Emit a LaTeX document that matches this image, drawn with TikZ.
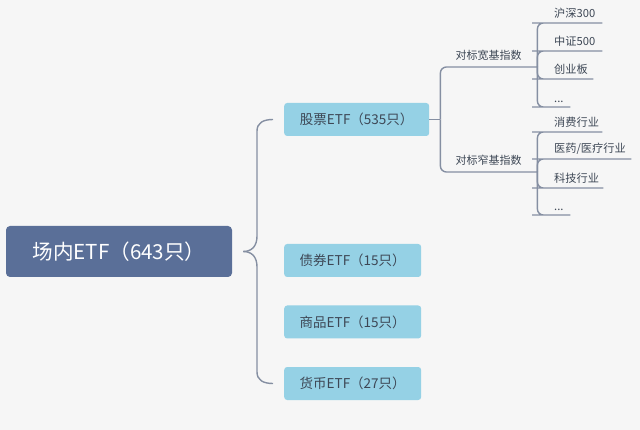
\documentclass[tikz,border=0pt]{standalone}
\usepackage{fontspec}
\setmainfont{Noto Sans CJK SC}
\usepackage{xcolor}
\usetikzlibrary{positioning,calc}
\definecolor{cBack}{HTML}{F6F6F6}
\definecolor{cRoot}{HTML}{5A6F98}
\definecolor{cMain}{HTML}{95D1E5}
\definecolor{cLine}{HTML}{858FA2}
\definecolor{cText}{HTML}{3D4755}
\tikzset{
  root/.style={rounded corners=4pt,fill=cRoot,text=white,minimum width=226pt,minimum height=51pt,inner sep=0pt,font=\fontsize{20.6}{24}\selectfont},
  main/.style={rounded corners=3pt,fill=cMain,text=cText,anchor=west,minimum height=33pt,inner sep=0pt,font=\fontsize{13.5}{15}\selectfont},
  sub/.style={anchor=south west,minimum width=97pt,inner xsep=0pt,inner ysep=6pt,text=cText,font=\fontsize{11}{13}\selectfont},
  leaf/.style={anchor=south west,text width=#1,align=left,inner xsep=0pt,inner ysep=4pt,text=cText,font=\fontsize{11.2}{13}\selectfont},
  link/.style={draw=cLine,line width=1.4pt},
  fork/.style={link,rounded corners=6pt}}
\begin{document}
\begin{tikzpicture}[x=1pt,y=-1pt]
\fill[cBack] (0,0) rectangle (640,430);
\useasboundingbox (0,0) rectangle (640,430);
\node[root] (root) at (119,251.5) {场内ETF（643只）};
\node[main, minimum width=145pt] (stock) at (284,119.5) {股票ETF（535只）};
\node[main, minimum width=137pt] (bond)  at (284,260.5) {债券ETF（15只）};
\node[main, minimum width=137pt] (goods) at (284,322)   {商品ETF（15只）};
\node[main, minimum width=137pt] (money) at (284,383.5) {货币ETF（27只）};
\node[sub] (wide)   at (440,67)  {对标宽基指数};
\node[sub] (narrow) at (440,172) {对标窄基指数};
\node[leaf=48pt] (hs)  at (554,23)  {沪深300};
\node[leaf=48pt] (zz)  at (554,51)  {中证500};
\node[leaf=39pt] (cy)  at (554,79)  {创业板};
\node[leaf=16pt] (wd)  at (554,107) {...};
\node[leaf=48pt] (xf)  at (554,132) {消费行业};
\node[leaf=77pt] (yy)  at (554,159) {医药/医疗行业};
\node[leaf=49pt] (kj)  at (554,188) {科技行业};
\node[leaf=16pt] (nd)  at (554,215) {...};
% brace from root
\path (root.east) ++(11,0) coordinate (rt);
\path (stock.west) ++(-11,0) coordinate (sIn);
\path (money.west) ++(-11,0) coordinate (mIn);
\draw[link] (rt) .. controls (252,251.5) and (257,246) .. (257,236) -- (257,131) .. controls (257,123) and (263,119.5) .. (sIn);
\draw[link] (rt) .. controls (252,251.5) and (257,257) .. (257,267) -- (257,372) .. controls (257,380) and (263,383.5) .. (mIn);
% stock branches
\path (stock.east) ++(11,0) coordinate (jS);
\draw[link] (stock.east) -- (jS);
\draw[fork] (jS) |- (wide.south east);
\draw[fork] (jS) |- (narrow.south east);
\foreach \n in {hs,zz,cy,wd}
  \draw[fork] (wide.south east) |- ($(\n.south west)+(-16,0)$) -- (\n.south east);
\foreach \n in {xf,yy,kj,nd}
  \draw[fork] (narrow.south east) |- ($(\n.south west)+(-16,0)$) -- (\n.south east);
\end{tikzpicture}
\end{document}
